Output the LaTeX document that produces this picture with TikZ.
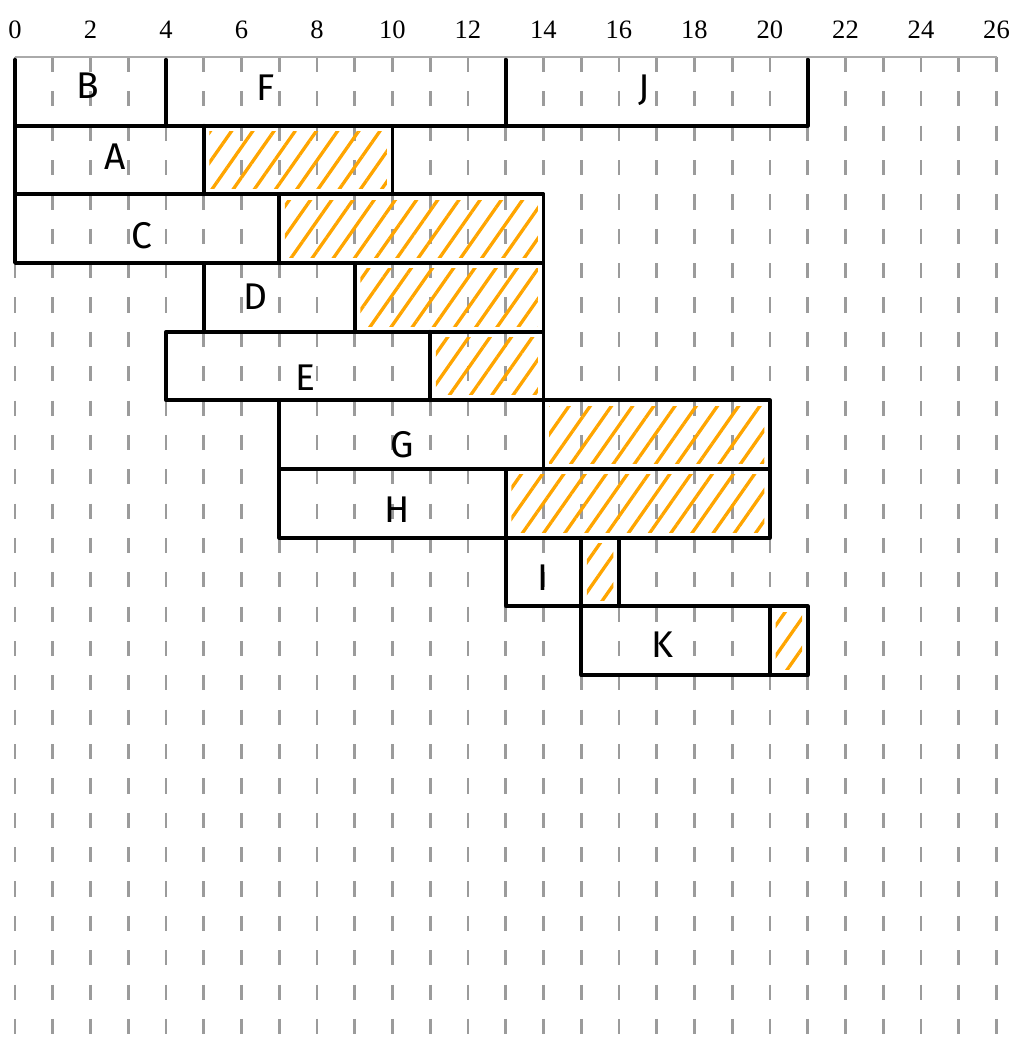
\documentclass[tikz,border=0pt]{standalone}
\usepackage{fontspec}
\setmainfont{Liberation Serif}
\newfontfamily\handfont{Fira Sans}
\usepackage{tikz}
\usetikzlibrary{patterns.meta}
\definecolor{slackorange}{HTML}{FFA500}
\definecolor{gridgray}{HTML}{9B9B9B}

\begin{document}
\begin{tikzpicture}[
  grid/.style={draw=gridgray, line width=2.2pt, dash pattern=on 0.4cm off 0.51cm},
  axis/.style={draw=gridgray!85, line width=1.8pt},
  bar/.style={draw=black, line width=2.8pt, line cap=round, line join=round},
  slack/.style={pattern={Lines[angle=55, distance=0.46cm, line width=2.5pt]},
                pattern color=slackorange},
  tick/.style={font=\fontsize{20}{24}\selectfont, inner sep=0pt},
  task/.style={font=\handfont\fontsize{28}{32}\selectfont, inner sep=0pt},
]
\useasboundingbox (-0.397,0) rectangle (26.41,-27.47);
\foreach \x in {0,...,26}
  \draw[grid] (\x,-1.51) -- (\x,-27.47);
\draw[axis] (0,-1.51) -- (26,-1.51);
\foreach \x in {0,2,...,26}
  \node[tick] (tick\x) at (\x,-0.80) {\x};
\draw[bar] (0,-1.58) -- (0,-3.329) -- (21,-3.329) -- (21,-1.58);
\draw[bar] (4,-1.58) -- (4,-3.329) (13,-1.58) -- (13,-3.329);
\foreach \s/\e/\f/\t/\b in {0/5/10/-3.329/-5.148, 0/7/14/-5.148/-6.967,
    5/9/14/-6.967/-8.786, 4/11/14/-8.786/-10.605, 7/14/20/-10.605/-12.424,
    7/13/20/-12.424/-14.243, 13/15/16/-14.243/-16.062, 15/20/21/-16.062/-17.881}{
  \fill[slack] (\e+0.15,\t-0.15) rectangle (\f-0.15,\b+0.15);
  \draw[bar] (\s,\t) rectangle (\f,\b) (\e,\t) -- (\e,\b);
}
\node[task] (B) at (1.94,-2.28) {B};
\node[task] (F) at (6.63,-2.33) {F};
\node[task] (J) at (16.66,-2.38) {J};
\node[task] (A) at (2.65,-4.16) {A};
\node[task] (C) at (3.37,-6.25) {C};
\node[task] (D) at (6.37,-7.87) {D};
\node[task] (E) at (7.69,-10.01) {E};
\node[task] (G) at (10.27,-11.79) {G};
\node[task] (H) at (10.13,-13.51) {H};
\node[task] (I) at (13.98,-15.31) {I};
\node[task] (K) at (17.16,-17.09) {K};
\end{tikzpicture}
\end{document}
